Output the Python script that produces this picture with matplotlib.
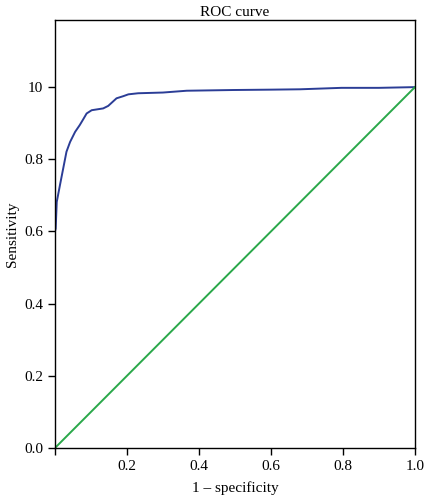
import numpy as np
import matplotlib
matplotlib.use("Agg")
import matplotlib.pyplot as plt

plt.rcParams['font.family'] = ['Liberation Serif', 'DejaVu Serif']

# ROC curve points
fpr = [0.0, 0.0, 0.002, 0.005, 0.014, 0.023, 0.032, 0.042, 0.056, 0.069,
       0.078, 0.088, 0.102, 0.134, 0.148, 0.171, 0.190, 0.204, 0.231,
       0.300, 0.366, 0.430, 0.495, 0.600, 0.681, 0.796, 0.900, 1.0]
tpr = [0.0, 0.600, 0.608, 0.682, 0.729, 0.775, 0.821, 0.848, 0.876, 0.895,
       0.910, 0.927, 0.936, 0.941, 0.948, 0.969, 0.975, 0.980, 0.983,
       0.985, 0.990, 0.991, 0.992, 0.993, 0.994, 0.998, 0.998, 1.0]
chance = [0.0, 1.0]

yticks = [0.0, 0.2, 0.4, 0.6, 0.8, 1.0]
ytick_labels = ["0.0", "0.2", "0.4", "0.6", "0.8", "10"]
xticks = [0.0, 0.2, 0.4, 0.6, 0.8, 1.0]
xtick_labels = ["", "0.2", "0.4", "0.6", "0.8", "1.0"]

fig = plt.figure(figsize=(4.26, 5.0), dpi=100)
ax = fig.add_axes([0.129, 0.104, 0.845, 0.856])

ax.plot(fpr[1:], tpr[1:], color="#2b3d96", lw=1.4)
ax.plot(chance, chance, color="#2aa84a", lw=1.4)

ax.set_xlim(0, 1.0)
ax.set_ylim(0, 1.186)
ax.set_xticks(xticks)
ax.set_xticklabels(xtick_labels)
ax.set_yticks(yticks)
ax.set_yticklabels(ytick_labels)
ax.tick_params(labelsize=11, direction="out", length=5, width=1)
for s in ax.spines.values():
    s.set_linewidth(1.0)

ax.set_title("ROC curve", fontsize=11, pad=3)
ax.set_xlabel("1 \u2013 specificity", fontsize=11, labelpad=6)
ax.set_ylabel("Sensitivity", fontsize=11, labelpad=4)

fig.savefig("out.png", dpi=100)
